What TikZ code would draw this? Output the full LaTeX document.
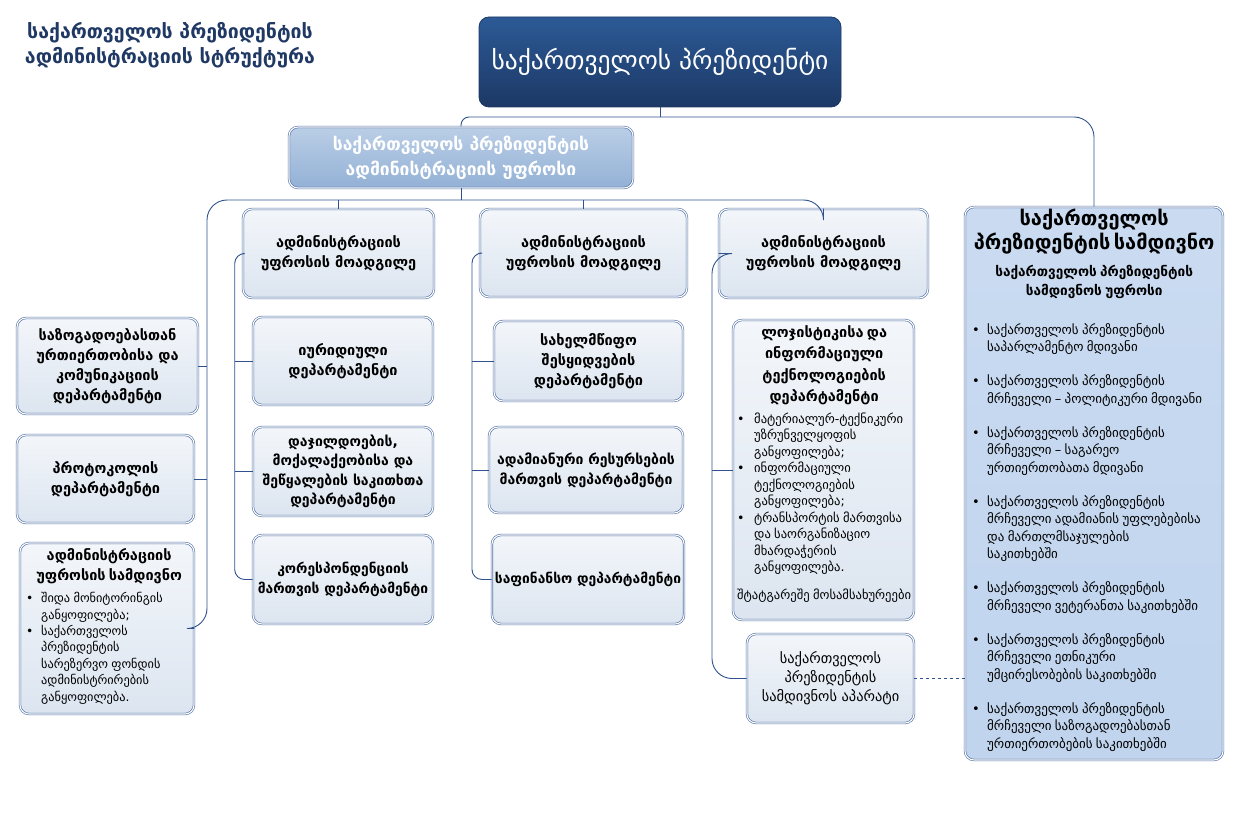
\documentclass[tikz,border=0pt]{standalone}
\usepackage{fontspec}
\setmainfont{DejaVu Sans}
\usetikzlibrary{calc}
\definecolor{conncol}{HTML}{2F528F}
\definecolor{bordcol}{HTML}{4F6FA6}
\definecolor{titlecol}{HTML}{1F3864}
\definecolor{topA}{HTML}{2C5A96}
\definecolor{topB}{HTML}{1C3865}
\definecolor{chiefA}{HTML}{BACEE6}
\definecolor{chiefB}{HTML}{93B1D6}
\definecolor{boxA}{HTML}{F3F6FA}
\definecolor{boxB}{HTML}{DCE5F0}
\definecolor{rightA}{HTML}{CADBF1}
\definecolor{rightB}{HTML}{C0D4EE}
\newcommand{\bitem}[2][15pt]{\par\noindent\hangindent=#1\hangafter=1\makebox[#1][l]{•}#2}
\begin{document}
\begin{tikzpicture}[x=1pt,y=-1pt,
  box/.style={draw=bordcol, line width=0.6pt, double=white, double distance=1.1pt,
    rounded corners=9pt, top color=boxA, bottom color=boxB, align=center,
    font=\fontsize{14.5}{20}\selectfont\bfseries, inner sep=3pt},
  cnx/.style={draw=conncol, line width=0.9pt, rounded corners=14pt}]
\useasboundingbox (0,0) rectangle (1248,837);

% title
\node[font=\fontsize{19.5}{25}\selectfont\bfseries, text=titlecol, align=center] (title) at (170,45)
  {საქართველოს პრეზიდენტის\\ადმინისტრაციის სტრუქტურა};

% top box
\node[draw=topB, line width=0.8pt, rounded corners=10pt, top color=topA, bottom color=topB,
  minimum width=362pt, minimum height=90pt, text=white,
  font=\fontsize{25.5}{28}\selectfont] (top) at (660,62) {საქართველოს პრეზიდენტი};

% chief box
\node[box, top color=chiefA, bottom color=chiefB, draw=bordcol, text=white,
  minimum width=344pt, minimum height=61pt,
  font=\fontsize{17.5}{25}\selectfont\bfseries] (chief) at (461,157.5)
  {საქართველოს პრეზიდენტის\\ადმინისტრაციის უფროსი};

% deputies
\node[box, minimum width=191pt, minimum height=89pt] (D1) at (338.5,253.5)
  {ადმინისტრაციის\\უფროსის მოადგილე};
\node[box, minimum width=207pt, minimum height=88pt] (D2) at (583.5,253)
  {ადმინისტრაციის\\უფროსის მოადგილე};
\node[box, minimum width=209pt, minimum height=89pt] (D3) at (823.5,253.5)
  {ადმინისტრაციის\\უფროსის მოადგილე};

% left column
\node[box, minimum width=181pt, minimum height=96pt] (L1) at (107.5,366)
  {საზოგადოებასთან\\ურთიერთობისა და\\კომუნიკაციის\\დეპარტამენტი};
\node[box, minimum width=177pt, minimum height=88pt] (L2) at (105.5,479)
  {პროტოკოლის\\დეპარტამენტი};
\node[box, minimum width=174pt, minimum height=171pt] (L3) at (107,628.5) {};
\node[anchor=north west, text width=166pt, align=left, inner sep=0pt] (L3t) at (26,548) {%
  {\centering\fontsize{14.5}{20}\selectfont\bfseries ადმინისტრაციის\\უფროსის სამდივნო\par}
  \vspace{6pt}
  {\fontsize{12.3}{16.4}\selectfont
  \bitem{შიდა მონიტორინგის\newline განყოფილება;}
  \bitem{საქართველოს\newline პრეზიდენტის\newline სარეზერვო ფონდის\newline ადმინისტრირების\newline განყოფილება.}\par}};

% column 1
\node[box, minimum width=180pt, minimum height=88pt] (C11) at (343,361)
  {იურიდიული\\დეპარტამენტი};
\node[box, minimum width=180pt, minimum height=89pt, font=\fontsize{14}{19.5}\selectfont\bfseries] (C12) at (343,471.5)
  {დაჯილდოების,\\მოქალაქეობისა და\\შეწყალების საკითხთა\\დეპარტამენტი};
\node[box, minimum width=180pt, minimum height=89pt, font=\fontsize{13.8}{20}\selectfont\bfseries] (C13) at (343,579.5)
  {კორესპონდენციის\\მართვის დეპარტამენტი};

% column 2
\node[box, minimum width=189pt, minimum height=80pt] (C21) at (588.5,361)
  {სახელმწიფო\\შესყიდვების\\დეპარტამენტი};
\node[box, minimum width=194pt, minimum height=86pt, font=\fontsize{14}{20}\selectfont\bfseries] (C22) at (586,470)
  {ადამიანური რესურსების\\მართვის დეპარტამენტი};
\node[box, minimum width=190pt, minimum height=89pt, font=\fontsize{13.8}{20}\selectfont\bfseries] (C23) at (588,579.5)
  {საფინანსო დეპარტამენტი};

% column 3
\node[box, minimum width=181pt, minimum height=300pt] (C31) at (823.5,470) {};
\node[anchor=north west, text width=174pt, align=left, inner sep=0pt] (C31t) at (737,325) {%
  {\centering\fontsize{14.5}{21.5}\selectfont\bfseries ლოჯისტიკისა და\\ინფორმაციული\\ტექნოლოგიების\\დეპარტამენტი\par}
  \vspace{5pt}
  {\fontsize{12.6}{16.5}\selectfont
  \bitem[17pt]{მატერიალურ-ტექნიკური\newline უზრუნველყოფის\newline განყოფილება;}
  \bitem[17pt]{ინფორმაციული\newline ტექნოლოგიების\newline განყოფილება;}
  \bitem[17pt]{ტრანსპორტის მართვისა\newline და საორგანიზაციო\newline მხარდაჭერის\newline განყოფილება.}
  \par\vspace{11pt}\noindent შტატგარეშე მოსამსახურეები\par}};
\node[box, minimum width=167pt, minimum height=89pt,
  font=\fontsize{14.4}{19}\selectfont] (app) at (830.5,678.5)
  {საქართველოს\\პრეზიდენტის\\სამდივნოს აპარატი};

% right box
\node[box, top color=rightA, bottom color=rightB, minimum width=258pt, minimum height=553pt] (R) at (1094,483.5) {};
\node[anchor=north west, text width=244pt, align=left, inner sep=0pt] (Rt) at (972,209) {%
  {\centering\fontsize{20}{24}\selectfont\bfseries საქართველოს\\პრეზიდენტის სამდივნო\par}
  \vspace{8pt}
  {\centering\fontsize{13.6}{19}\selectfont\bfseries საქართველოს პრეზიდენტის\\სამდივნოს უფროსი\par}
  \vspace{21pt}
  {\fontsize{13}{17.5}\selectfont
  \bitem{საქართველოს პრეზიდენტის\newline საპარლამენტო მდივანი}
  \par\vspace{16.5pt}
  \bitem{საქართველოს პრეზიდენტის\newline მრჩეველი – პოლიტიკური მდივანი}
  \par\vspace{16.5pt}
  \bitem{საქართველოს პრეზიდენტის\newline მრჩეველი – საგარეო\newline ურთიერთობათა მდივანი}
  \par\vspace{16.5pt}
  \bitem{საქართველოს პრეზიდენტის\newline მრჩეველი ადამიანის უფლებებისა\newline და მართლმსაჯულების\newline საკითხებში}
  \par\vspace{16.5pt}
  \bitem{საქართველოს პრეზიდენტის\newline მრჩეველი ვეტერანთა საკითხებში}
  \par\vspace{16.5pt}
  \bitem{საქართველოს პრეზიდენტის\newline მრჩეველი ეთნიკური\newline უმცირესობების საკითხებში}
  \par\vspace{16.5pt}
  \bitem{საქართველოს პრეზიდენტის\newline მრჩეველი საზოგადოებასთან\newline ურთიერთობების საკითხებში}\par}};

% connectors
\coordinate (b1) at (660,117);
\coordinate (b2) at (461,200);
\coordinate (lc) at (207,200);
\draw[cnx] (top.south) -- (b1);
\draw[cnx, rounded corners=8pt] (chief.north) |- (b1);
\draw[cnx, rounded corners=20pt] (b1) -| (R.north);
\draw[cnx] (chief.south) -- (b2);
\draw[cnx, rounded corners=20pt] (D3.north) |- (lc) |- (L3.east);
\draw[cnx] (D1.north) -- (D1.north |- lc);
\draw[cnx] (D2.north) -- (D2.north |- lc);
\draw[cnx] (L1.east) -- (L1.east -| lc);
\draw[cnx] (L2.east) -- (L2.east -| lc);

\coordinate (k1) at ($(C13.west)+(-18,0)$);
\draw[cnx, rounded corners=10pt] (D1.west) -| (k1) -- (C13.west);
\draw[cnx] (C11.west) -- (C11.west -| k1);
\draw[cnx] (C12.west) -- (C12.west -| k1);

\coordinate (k2) at (472,579.5);
\draw[cnx, rounded corners=10pt] (D2.west) -| (k2) -- (C23.west);
\draw[cnx] (C21.west) -- (C21.west -| k2);
\draw[cnx] (C22.west) -- (C22.west -| k2);

\coordinate (k3) at (712,678.5);
\draw[cnx, rounded corners=20pt] (D3.west) -| (k3) -- (app.west);
\draw[cnx] (C31.west) -- (C31.west -| k3);
\draw[cnx, dashed] (app.east) -- (app.east -| R.west);
\end{tikzpicture}
\end{document}
